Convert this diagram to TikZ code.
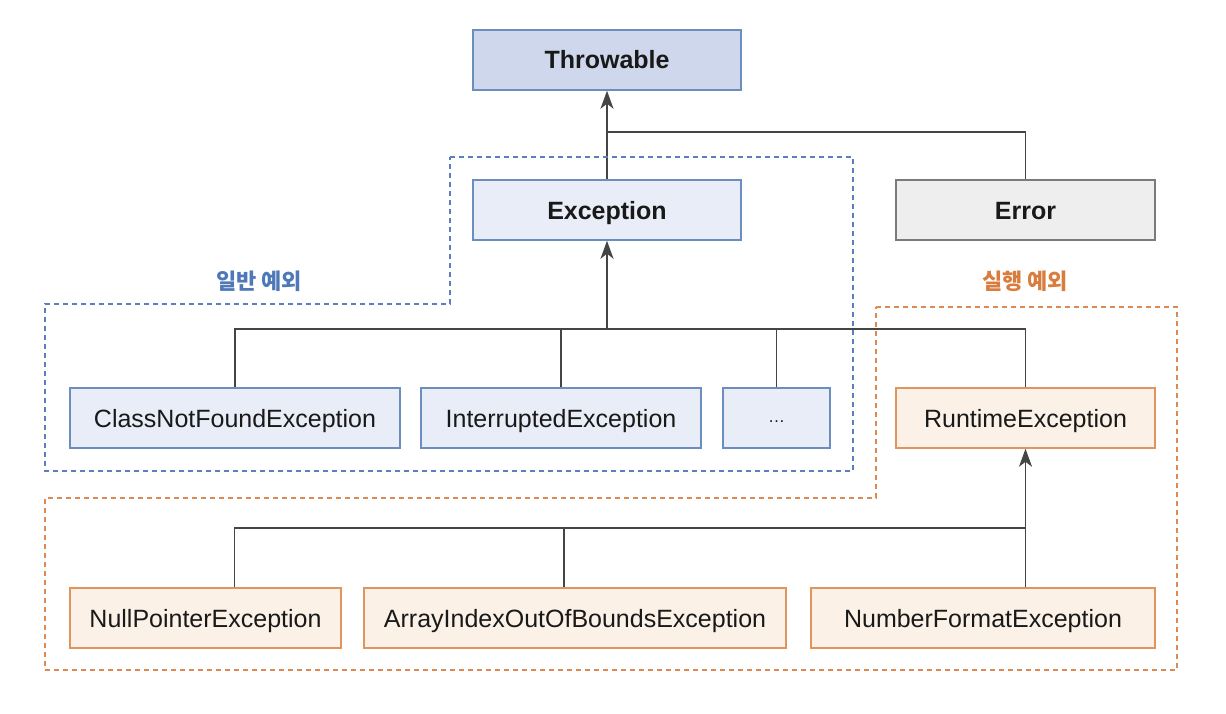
\documentclass[tikz,border=0pt]{standalone}
\usepackage{fontspec}
\setmainfont{Liberation Sans}
\newfontfamily\krfont{Noto Sans CJK KR}
\usetikzlibrary{arrows.meta}

\definecolor{blueline}{HTML}{6C8EBF}
\definecolor{bluedash}{HTML}{5A7FBF}
\definecolor{bluetext}{HTML}{4F78B8}
\definecolor{topfill}{HTML}{CFD7EC}
\definecolor{bluefill}{HTML}{E9EDF7}
\definecolor{orangeline}{HTML}{E0955F}
\definecolor{orangedash}{HTML}{DA8A52}
\definecolor{orangetext}{HTML}{D97D3F}
\definecolor{orangefill}{HTML}{FBF1E7}
\definecolor{grayline}{HTML}{7A7A7A}
\definecolor{grayfill}{HTML}{EEEEEE}
\definecolor{connline}{HTML}{454545}

\begin{document}
\begin{tikzpicture}[x=1pt, y=-1pt,
    every node/.style={font=\fontsize{25}{30}\selectfont, text=black!90},
    cls/.style={draw, line width=1.5pt, minimum height=60pt, inner sep=0pt, text height=18pt, text depth=0pt},
    blucls/.style={cls, draw=blueline, fill=bluefill},
    orgcls/.style={cls, draw=orangeline, fill=orangefill},
    conn/.style={draw=connline, line width=1.6pt},
    tip/.style={-{Stealth[length=18pt, width=13pt, inset=5pt]}},
    region/.style={line width=1.6pt, dash pattern=on 5pt off 4pt},
    grouplabel/.style={font=\krfont\bfseries\fontsize{22}{26}\selectfont}]
    \useasboundingbox (0,0) rectangle (1226,714);
    % top of the hierarchy
    \node[cls, draw=blueline, fill=topfill, minimum width=268pt, font=\bfseries\fontsize{25}{30}\selectfont] (throwable) at (607,60) {Throwable};
    \node[blucls, minimum width=268pt, font=\bfseries\fontsize{25}{30}\selectfont] (exception) at (607,210) {Exception};
    \node[cls, draw=grayline, fill=grayfill, minimum width=259pt, font=\bfseries\fontsize{25}{30}\selectfont] (error) at (1025.5,210) {Error};
    \coordinate (tbus) at (607,132);
    \draw[conn, tip] (exception) -- (throwable);
    \draw[conn] (tbus) -| (error.north);
    % checked exceptions and RuntimeException
    \node[blucls, minimum width=330pt] (classnf) at (235,418) {ClassNotFoundException};
    \node[blucls, minimum width=280pt] (interrupted) at (561,418) {InterruptedException};
    \node[blucls, minimum width=107pt, font=\fontsize{17}{20}\selectfont] (etc) at (776.5,418) {\raisebox{5pt}{…}};
    \node[orgcls, minimum width=259pt] (runtime) at (1025.5,418) {RuntimeException};
    \coordinate (ebus) at (607,329);
    \draw[conn, tip] (ebus) -- (exception);
    \draw[conn] (classnf.north) |- (runtime.north |- ebus) -- (runtime.north);
    \foreach \n in {interrupted, etc} {
        \draw[conn] (\n.north) -- (\n.north |- ebus);
    }
    % unchecked exceptions
    \node[orgcls, minimum width=271pt] (nullptr) at (205.5,618) {NullPointerException};
    \node[orgcls, minimum width=422pt] (arrayidx) at (575,618) {ArrayIndexOutOfBoundsException};
    \node[orgcls, minimum width=344pt] (numfmt) at (983,618) {NumberFormatException};
    \coordinate (rbus) at (1025.5,528);
    \draw[conn, tip] (numfmt.north -| rbus) -- (runtime.south);
    \draw[conn] ([xshift=29pt]nullptr.north) |- (rbus);
    \draw[conn] ([xshift=-11pt]arrayidx.north) -- ([xshift=-11pt]arrayidx.north |- rbus);
    % dashed groups
    \draw[region, draw=bluedash] (450,157) -- (853,157) -- (853,471) -- (45,471) -- (45,304) -- (450,304) -- cycle;
    \draw[region, draw=orangedash] (876,307) -- (1177,307) -- (1177,670) -- (45,670) -- (45,498) -- (876,498) -- cycle;
    \node[grouplabel, text=bluetext] (checked) at (259,281) {일반 예외};
    \node[grouplabel, text=orangetext] (unchecked) at (1025,281) {실행 예외};
\end{tikzpicture}
\end{document}
